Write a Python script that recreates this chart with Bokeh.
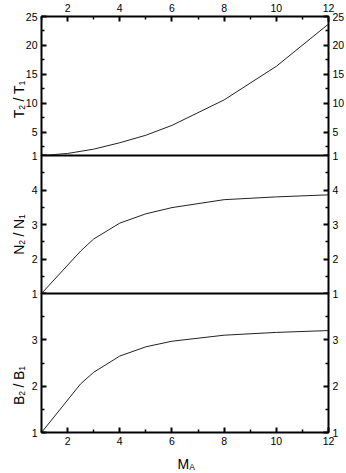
import math
from bokeh.plotting import figure
from bokeh.models import Range1d, LinearAxis, FixedTicker, Label
from bokeh.layouts import column, row
from bokeh.embed import file_html
from bokeh.resources import INLINE

# ---------------- data ----------------
mach_T = [1, 2, 3, 4, 5, 6, 8, 10, 12]
temp_ratio = [1.0, 1.35, 2.1, 3.2, 4.5, 6.2, 10.6, 16.4, 23.7]

mach_N = [1, 2.5, 3, 4, 5, 6, 8, 10, 12]
dens_ratio = [1.0, 2.23, 2.58, 3.04, 3.31, 3.49, 3.72, 3.80, 3.86]

mach_B = [1, 2.5, 3, 4, 5, 6, 8, 10, 12]
field_ratio = [1.0, 2.05, 2.30, 2.65, 2.85, 2.97, 3.10, 3.16, 3.20]

x_ticks = [2, 4, 6, 8, 10, 12]
x_minor = [1, 3, 5, 7, 9, 11]
T_ticks = [1, 5, 10, 15, 20, 25]
T_minor = [2.5, 7.5, 12.5, 17.5, 22.5]
N_ticks = [1, 2, 3, 4]
N_minor = [1.5, 2.5, 3.5, 4.5]
B_ticks = [1, 2, 3]
B_minor = [1.5, 2.5, 3.5]

FONT = "Liberation Sans"
FW = 287
OVL = 7  # overlap between stacked panels (room for edge tick labels)
WIDTH = 346

W = {'T': 0.611, 'N': 0.722, 'B': 0.667, 'M': 0.833, 'A': 0.667,
     '/': 0.278, ' ': 0.278, '1': 0.556, '2': 0.556}


def tw(s, size):
    return sum(W[c] for c in s) * size


def style_axis(ax, standoff=4):
    ax.axis_line_color = None
    ax.major_tick_in = 5
    ax.major_tick_out = 0
    ax.minor_tick_in = 3
    ax.minor_tick_out = 0
    ax.major_tick_line_width = 2
    ax.minor_tick_line_width = 1.5
    ax.major_tick_line_color = "black"
    ax.minor_tick_line_color = "black"
    ax.major_label_text_font = FONT
    ax.major_label_text_font_size = "10.5px"
    ax.major_label_text_color = "black"
    ax.major_label_standoff = standoff


def make_fig(fh, yr, ticks, minor, top_b, bot_b, xloc, margin, transparent):
    p = figure(frame_width=FW, frame_height=fh,
               x_range=Range1d(1, 12), y_range=Range1d(*yr),
               x_axis_location=xloc, output_backend="svg",
               toolbar_location=None,
               min_border_left=41, min_border_right=18,
               min_border_top=top_b, min_border_bottom=bot_b,
               background_fill_color="white",
               border_fill_color=None if transparent else "white",
               outline_line_color="black", outline_line_width=2,
               margin=margin)
    p.grid.visible = False
    p.yaxis.ticker = FixedTicker(ticks=ticks, minor_ticks=minor)
    p.add_layout(LinearAxis(ticker=FixedTicker(ticks=ticks, minor_ticks=minor)), "right")
    if xloc is not None:
        p.xaxis.ticker = FixedTicker(ticks=x_ticks, minor_ticks=x_minor)
    for ax in p.axis:
        style_axis(ax)
    return p


pT = make_fig(139, (1, 25), T_ticks, T_minor, 15, OVL, "above", (0, 0, 0, 0), False)
pN = make_fig(138, (1, 5), N_ticks, N_minor, 0, OVL, None, (-OVL, 0, 0, 0), True)
pB = make_fig(139, (1, 4), B_ticks, B_minor, 0, 41, "below", (-OVL, 0, 0, 0), True)
pT.xaxis.major_label_standoff = 5

pT.line(mach_T, temp_ratio, line_color="#222222", line_width=1)
pN.line(mach_N, dens_ratio, line_color="#222222", line_width=1)
pB.line(mach_B, field_ratio, line_color="#222222", line_width=1)

# total height of the stacked panels
TOTAL = (15 + 139 + OVL) + (138 + OVL - OVL) + (139 + 41 - OVL)

# transparent overlay in page pixels (y downwards) holding the axis titles
ov = figure(frame_width=WIDTH, frame_height=TOTAL,
            x_range=Range1d(0, WIDTH), y_range=Range1d(TOTAL, 0),
            x_axis_location=None, y_axis_location=None,
            output_backend="svg", toolbar_location=None,
            min_border_left=0, min_border_right=0,
            min_border_top=0, min_border_bottom=0,
            background_fill_color=None, border_fill_color=None,
            outline_line_color=None, margin=(0, 0, 0, -WIDTH))
ov.grid.visible = False


def rot_label(pieces, x_page, center_page):
    # pieces: (text, font size, baseline shift, gap after)
    total = sum(tw(t, s) + g for t, s, _, g in pieces)
    start = center_page + total / 2.0
    c = 0.0
    for t, s, shift, g in pieces:
        ov.add_layout(Label(x=x_page + shift, y=start - c,
                            text=t, angle=math.pi / 2, text_align="left",
                            text_baseline="alphabetic", text_font=FONT,
                            text_font_size=f"{s}px", text_color="black"))
        c += tw(t, s) + g


MS, SS = 14, 8.5
SH = 3
GAP = 3.5


def ratio_label(letter, center):
    rot_label([(letter, MS, 0, 0), ("2", SS, SH, GAP), ("/", MS, 0, GAP),
               (letter, MS, 0, 0), ("1", SS, SH, 0)], 17.5, center)


ratio_label("T", 99)
ratio_label("N", 234)
ratio_label("B", 385)

ov.add_layout(Label(x=176, y=463, text="M",
                    text_align="left", text_baseline="alphabetic", text_font=FONT,
                    text_font_size="14px", text_color="black"))
ov.add_layout(Label(x=176 + tw("M", 14), y=466, text="A",
                    text_align="left", text_baseline="alphabetic", text_font=FONT,
                    text_font_size="8.5px", text_color="black"))

layout = row(column(pT, pN, pB, spacing=0), ov, spacing=0)
open("out.html", "w").write(file_html(layout, INLINE))
